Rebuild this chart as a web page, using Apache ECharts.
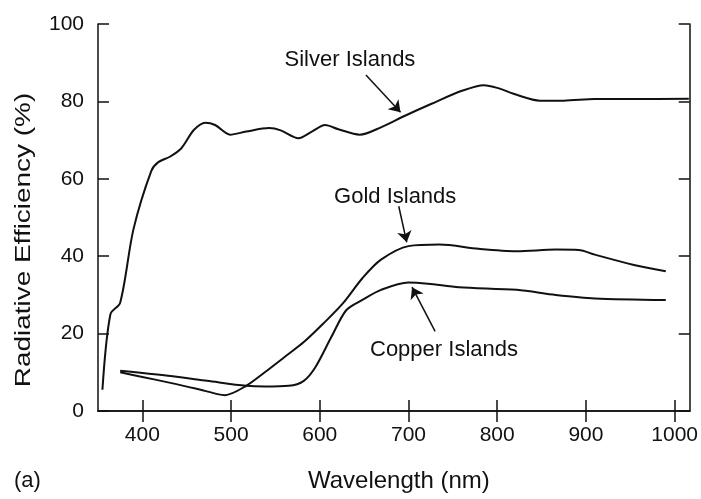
<!DOCTYPE html>
<html>
<head>
<meta charset="utf-8">
<script src="https://cdn.jsdelivr.net/npm/echarts@6/dist/echarts.min.js"></script>
<style>
  html, body { margin: 0; padding: 0; background: #fff; }
  #chart { width: 701px; height: 499px; }
</style>
</head>
<body>
<div id="chart"></div>
<script>
// Radiative efficiency of metal island films versus wavelength
const xTicks = [400, 500, 600, 700, 800, 900, 1000];
const yTicks = [0, 20, 40, 60, 80, 100];

const silverX = [355, 364, 375, 390, 410, 418, 431, 444, 458, 471, 482, 499, 517, 543, 556, 576, 591, 606, 621, 645, 669, 696, 726, 761, 785, 800, 822, 848, 875, 910, 953, 1016];
const silverY = [5.5, 25, 28, 47, 62, 64.3, 65.7, 67.9, 72.6, 74.5, 73.9, 71.4, 72.2, 73.1, 72.5, 70.5, 72.2, 73.9, 72.8, 71.4, 73.3, 76.3, 79.4, 82.8, 84.2, 83.5, 81.7, 80.2, 80.2, 80.6, 80.6, 80.7];

const goldX = [375, 400, 429, 460, 486, 493, 517, 538, 560, 582, 604, 626, 648, 669, 700, 735, 779, 822, 866, 892, 910, 953, 990];
const goldY = [10.0, 8.8, 7.4, 5.8, 4.3, 4.1, 6.5, 10, 13.9, 17.8, 22.6, 27.8, 34.3, 39.1, 42.6, 43, 41.9, 41.3, 41.7, 41.6, 40.4, 37.8, 36.1];

const copperX = [375, 429, 473, 517, 538, 565, 582, 595, 613, 630, 648, 669, 700, 722, 757, 822, 866, 910, 990];
const copperY = [10.4, 9.1, 7.8, 6.5, 6.3, 6.5, 7.8, 11.3, 19.1, 26.1, 28.7, 31.3, 33.2, 32.9, 32, 31.3, 30, 29.1, 28.7];

// Curve labels (text centre, in data units) and their leader arrows
const labelNames = ['Silver Islands', 'Gold Islands', 'Copper Islands'];
const labelX = [634, 685, 740];
const labelY = [90.6, 55.2, 15.8];
const arrowFrom = [[652, 86.8], [689, 52.9], [730, 20.6]];
const arrowTo = [[691, 77.2], [698, 43.6], [704, 32.0]];

const FONT = "'Liberation Sans', Arial, Helvetica, sans-serif";
const INK = '#111111';

function pairs(xs, ys) { return xs.map((x, i) => [x, ys[i]]); }

const curveStyle = { color: INK, width: 2 };
function curve(name, xs, ys) {
  return {
    name: name, type: 'line', data: pairs(xs, ys),
    showSymbol: false, smooth: 0.3, lineStyle: curveStyle,
    silent: true, animation: false
  };
}

const frameLine = { show: true, lineStyle: { color: INK, width: 1.5 } };
const innerTick = { show: true, inside: true, length: 11, lineStyle: { color: INK, width: 1.5 } };

const chart = echarts.init(document.getElementById('chart'), null, { renderer: 'canvas' });
chart.setOption({
  backgroundColor: '#ffffff',
  animation: false,
  grid: { left: 98, right: 7, top: 24, bottom: 88, containLabel: false },
  xAxis: [
    {
      type: 'value', min: 350, max: 1017, position: 'bottom',
      name: 'Wavelength (nm)', nameLocation: 'middle', nameGap: 58,
      nameTextStyle: { fontFamily: FONT, fontSize: 24, color: INK, padding: [0, 0, 0, 10] },
      axisLine: frameLine,
      axisTick: Object.assign({}, innerTick, { customValues: xTicks }),
      axisLabel: {
        customValues: xTicks, formatter: v => String(v),
        fontFamily: FONT, fontSize: 21, color: INK, margin: 14
      },
      splitLine: { show: false }
    },
    {
      type: 'value', min: 350, max: 1017, position: 'top',
      axisLine: frameLine,
      axisTick: Object.assign({}, innerTick, { customValues: xTicks }),
      axisLabel: { show: false }, splitLine: { show: false }
    }
  ],
  yAxis: [
    {
      type: 'value', min: 0, max: 100, interval: 20, position: 'left',
      axisLine: frameLine, axisTick: innerTick,
      axisLabel: {
        customValues: yTicks, formatter: v => String(v),
        fontFamily: FONT, fontSize: 21, color: INK, margin: 14
      },
      splitLine: { show: false }
    },
    {
      type: 'value', min: 0, max: 100, interval: 20, position: 'right',
      axisLine: frameLine, axisTick: innerTick,
      axisLabel: { show: false }, splitLine: { show: false }
    }
  ],
  graphic: [
    { type: 'text', left: 14, top: 470, style: { text: '(a)', font: '22px ' + FONT, fill: INK } },
    {
      // vertical axis title, stretched along its reading direction
      type: 'text', x: 24, y: 240, rotation: Math.PI / 2, scaleX: 1.27, scaleY: 1,
      style: {
        text: 'Radiative Efficiency (%)', font: '22px ' + FONT, fill: INK,
        align: 'center', verticalAlign: 'middle'
      }
    }
  ],
  series: [
    curve('Silver Islands', silverX, silverY),
    curve('Gold Islands', goldX, goldY),
    curve('Copper Islands', copperX, copperY),
    {
      name: 'labels', type: 'scatter', symbol: 'circle', symbolSize: 0, silent: true,
      itemStyle: { color: INK, opacity: 1 },
      emphasis: { disabled: true },
      data: labelNames.map((n, i) => ({ name: n, value: [labelX[i], labelY[i]] })),
      label: {
        show: true, position: 'inside', formatter: p => p.name, opacity: 1,
        fontFamily: FONT, fontSize: 22, color: INK
      }
    },
    {
      name: 'arrows', type: 'line', data: [], silent: true,
      markLine: {
        silent: true, symbol: ['none', 'arrow'], symbolSize: 11,
        lineStyle: { color: INK, width: 1.5, type: 'solid', opacity: 1 },
        itemStyle: { color: INK },
        label: { show: false }, emphasis: { disabled: true },
        data: arrowFrom.map((f, i) => [{ coord: f }, { coord: arrowTo[i] }])
      }
    }
  ]
});
</script>
</body>
</html>
